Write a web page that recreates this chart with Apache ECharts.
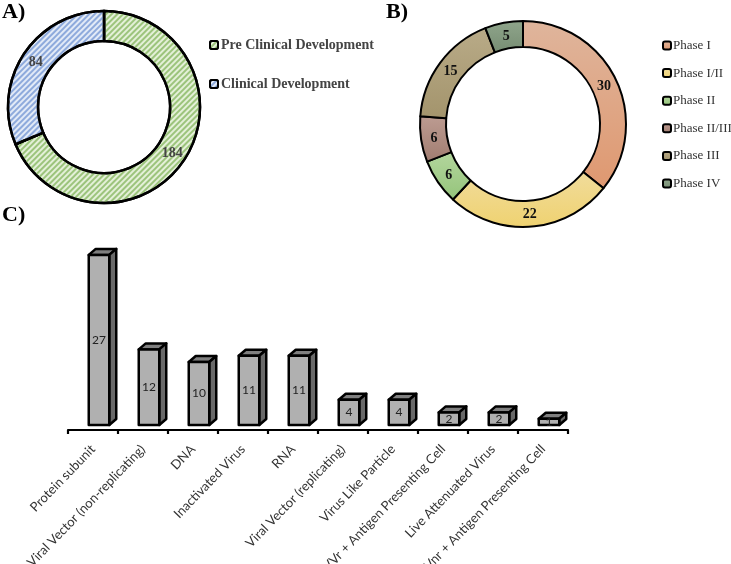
<!DOCTYPE html>
<html><head><meta charset="utf-8">
<style>html,body{margin:0;padding:0;background:#fff}#c{width:731px;height:564px}</style>
<script src="https://cdn.jsdelivr.net/npm/echarts@6/dist/echarts.min.js"></script>
</head><body><div id="c"></div>
<script>
const stageNames = ['Pre Clinical Development', 'Clinical Development'];
const stageValues = [184, 84];
const phaseNames = ['Phase I', 'Phase I/II', 'Phase II', 'Phase II/III', 'Phase III', 'Phase IV'];
const phaseValues = [30, 22, 6, 6, 15, 5];
const platformNames = ['Protein subunit', 'Viral Vector (non-replicating)', 'DNA', 'Inactivated Virus', 'RNA',
  'Viral Vector (replicating)', 'Virus Like Particle', 'VVr + Antigen Presenting Cell', 'Live Attenuated Virus', 'VVnr + Antigen Presenting Cell'];
const platformValues = [27, 12, 10, 11, 11, 4, 4, 2, 2, 1];
const phaseGradients = [['#dfb59c', '#df9870'], ['#f1dc9c', '#efd270'], ['#b4d69e', '#94c47a'],
  ['#bd9c92', '#a07c70'], ['#b9ab88', '#a3946c'], ['#90a68c', '#768c72']];

const serif = '"Liberation Serif","Times New Roman",serif';
const grad = (a, b) => new echarts.graphic.LinearGradient(0, 0, 0, 1, [{offset: 0, color: a}, {offset: 1, color: b}]);
const hatch = (bg, line) => ({
  color: bg,
  decal: {symbol: 'rect', color: line, dashArrayX: [1, 0], dashArrayY: [2, 2], rotation: -Math.PI / 4, symbolSize: 1}
});
// nudge ring labels slightly toward the ring's centre, and down a little
const pull = (cx, cy, n, down) => p => {
  const x = p.labelRect.x + p.labelRect.width / 2 - cx, y = p.labelRect.y + p.labelRect.height / 2 - cy;
  const len = Math.hypot(x, y) || 1;
  return {dx: -n * x / len, dy: -n * y / len + down};
};

const chart = echarts.init(document.getElementById('c'), null, {renderer: 'canvas'});
const panel = (text, left, top) => ({text, left, top, padding: 0,
  textStyle: {fontFamily: serif, fontWeight: 'bold', fontSize: 22, color: '#000'}});

chart.setOption({
  animation: false,
  backgroundColor: '#fff',
  title: [panel('A)', 2, 1), panel('B)', 386, 1), panel('C)', 2, 204)],
  legend: [
    {seriesIndex: 0, data: stageNames, orient: 'vertical', left: 209, top: 38, itemWidth: 8, itemHeight: 8, itemGap: 25, padding: 0,
      textStyle: {fontFamily: serif, fontWeight: 'bold', fontSize: 14, color: '#444', padding: [0, 0, 0, -2]}},
    {data: phaseNames, orient: 'vertical', left: 662, top: 39, itemWidth: 8, itemHeight: 8, itemGap: 14.6, padding: 0,
      textStyle: {fontFamily: serif, fontSize: 13, color: '#333', padding: [0, 0, 0, -3]}}
  ],
  grid: {left: 68, right: 163, top: 241, bottom: 134, outerBoundsMode: 'none', containLabel: false},
  xAxis: {type: 'category', data: platformNames, position: 'bottom',
    axisLine: {lineStyle: {color: '#000', width: 2.2}},
    axisTick: {show: true, alignWithLabel: false, length: 4, lineStyle: {color: '#000', width: 2.2}},
    axisLabel: {rotate: 46, interval: 0, margin: 17, fontFamily: 'Lato', fontSize: 13, color: '#333'}},
  yAxis: {type: 'value', min: 0, max: 30, show: false},
  series: [
    {type: 'pie', name: 'Stage', center: [104, 107], radius: [66, 96], startAngle: 90, clockwise: true,
      data: stageNames.map((name, i) => ({name, value: stageValues[i],
        itemStyle: i === 0 ? hatch('#e4f0d8', '#9cc47c') : hatch('#e2eaf7', '#8eaadc')})),
      itemStyle: {borderColor: '#000', borderWidth: 2.5},
      label: {position: 'inside', formatter: '{c}', fontFamily: serif, fontWeight: 'bold', fontSize: 14, color: '#444'},
      labelLayout: pull(104, 107, 2, 1),
      labelLine: {show: false}, emphasis: {disabled: true}},
    {type: 'pie', name: 'Phase', center: [523, 124], radius: [77, 103], startAngle: 90, clockwise: true,
      data: phaseNames.map((name, i) => ({name, value: phaseValues[i],
        itemStyle: {color: grad(phaseGradients[i][0], phaseGradients[i][1])}})),
      itemStyle: {borderColor: '#000', borderWidth: 2},
      label: {position: 'inside', formatter: '{c}', fontFamily: serif, fontWeight: 'bold', fontSize: 14, color: '#111'},
      labelLayout: pull(523, 124, 3, 1),
      labelLine: {show: false}, emphasis: {disabled: true}},
    {type: 'custom', name: 'Platform', data: platformValues.map((v, i) => [i, v]),
      encode: {x: 0, y: 1},
      renderItem(params, api) {
        const lift = 5; // bars stand slightly above the axis line
        const top = api.coord([api.value(0), api.value(1)]);
        const base = api.coord([api.value(0), 0]);
        const w = api.size([1, 0])[0] * 0.41;
        const dx = 7, dy = 6;
        const l = top[0] - w / 2 + 6, r = l + w, t = top[1] - lift, b = base[1] - lift;
        const style = f => ({fill: f, stroke: '#000', lineWidth: 2.5, lineJoin: 'round'});
        return {type: 'group', children: [
          {type: 'polygon', shape: {points: [[l, t], [l + dx, t - dy], [r + dx, t - dy], [r, t]]}, style: style('#7f7f7f')},
          {type: 'polygon', shape: {points: [[r, t], [r + dx, t - dy], [r + dx, b - dy], [r, b]]}, style: style('#696969')},
          {type: 'rect', shape: {x: l, y: t, width: w, height: b - t}, style: style('#b0b0b0')},
          {type: 'text', x: (l + r) / 2, y: (t + b) / 2, style: {text: String(api.value(1)), align: 'center', verticalAlign: 'middle',
            font: '12px Lato', fill: '#222'}}
        ]};
      }}
  ]
});
</script></body></html>
